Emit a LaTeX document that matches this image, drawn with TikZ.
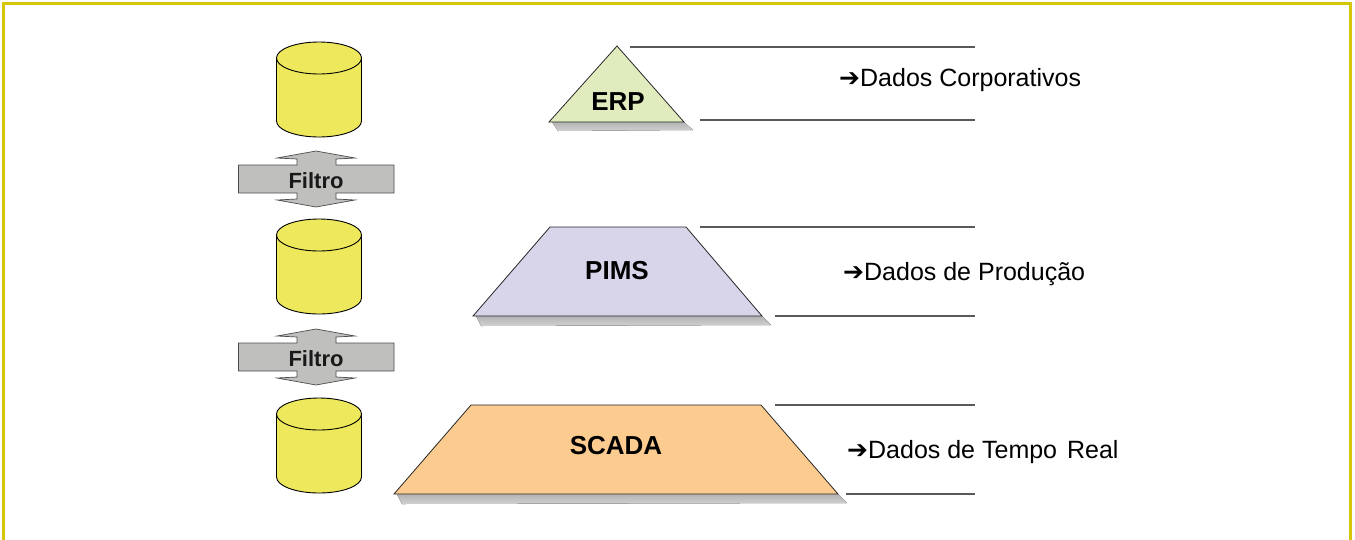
\documentclass[tikz,border=0pt]{standalone}
\usepackage{fontspec}
\setmainfont{Liberation Sans}
\newfontfamily\arrowfont{DejaVu Sans}
\newcommand{\dataarrow}{{\arrowfont\fontsize{25}{25}\selectfont ➔}}
\tikzset{
	framebox/.style={draw=framecol,line width=3pt},
	disc/.style={draw=black,line width=0.9pt,fill=disccol},
	filterarrow/.style={draw=black!70,line width=0.7pt,fill=filtercol},
	level/.style={draw=black!85,line width=0.8pt},
	levelshadow/.style={top color=black!30,bottom color=black!18,draw=none},
	guideline/.style={draw=black!65,line width=1.1pt},
	levelname/.style={font=\bfseries\fontsize{26}{26}\selectfont,text=black},
	dataname/.style={font=\fontsize{25}{27}\selectfont,text=black,anchor=west,inner sep=0pt},
	filtername/.style={font=\bfseries\fontsize{22}{22}\selectfont,text=black!90}
}
\definecolor{framecol}{RGB}{214,198,10}
\definecolor{disccol}{RGB}{237,232,92}
\definecolor{filtercol}{RGB}{191,192,190}
\definecolor{erpcol}{RGB}{224,236,190}
\definecolor{pimscol}{RGB}{216,213,234}
\definecolor{scadacol}{RGB}{252,203,144}
\begin{document}
\begin{tikzpicture}[x=1pt,y=-1pt]
	\useasboundingbox (0,0) rectangle (1355,539);
	\draw[framebox] (3.5,600) -- (3.5,3.5) -- (1350.5,3.5) -- (1350.5,600);
	% cylinders
	\foreach \dy in {0,177,356} {
		\draw[disc] (276.5,58+\dy) -- (276.5,121+\dy) arc[start angle=180,end angle=0,x radius=42.5,y radius=16] -- (361.5,58+\dy) arc[start angle=0,end angle=-180,x radius=42.5,y radius=16] -- cycle;
		\draw[disc] (276.5,58+\dy) arc[start angle=180,end angle=0,x radius=42.5,y radius=16];
	}
	% filters
	\foreach \dy/\nm in {0/filterA,178/filterB} {
		\draw[filterarrow] (316,151+\dy) -- (355,158+\dy) -- (336,159+\dy) -- (336,165+\dy) -- (394,165+\dy) -- (394,193+\dy) -- (336,193+\dy) -- (336,199+\dy) -- (355,200+\dy) -- (316,207+\dy) -- (277,200+\dy) -- (297,199+\dy) -- (297,193+\dy) -- (238.5,193+\dy) -- (238.5,165+\dy) -- (297,165+\dy) -- (297,159+\dy) -- (277,158+\dy) -- cycle;
		\node[filtername] (\nm) at (316,180.5+\dy) {Filtro};
	}
	% levels
	\fill[levelshadow] (552,122) -- (684,122) -- (693,130) -- (558,131) -- cycle;
	\draw[level,fill=erpcol] (617,46) -- (684,122) -- (549,122) -- cycle;
	\node[levelname] (erp) at (618,102) {ERP};
	\fill[levelshadow] (476,316) -- (762,316) -- (771,325) -- (481,326) -- cycle;
	\draw[level,fill=pimscol] (550,227) -- (686,227) -- (762,316) -- (473,316) -- cycle;
	\node[levelname] (pims) at (617,271) {PIMS};
	\fill[levelshadow] (397,494) -- (838,494) -- (847,503) -- (402,504) -- cycle;
	\draw[level,fill=scadacol] (471,405) -- (761,405) -- (838,494) -- (394,494) -- cycle;
	\node[levelname] (scada) at (616,446) {SCADA};
	% guide lines
	\draw[guideline] (630,47) -- (975,47);
	\draw[guideline] (700,120) -- (975,120);
	\draw[guideline] (700,227) -- (975,227);
	\draw[guideline] (775,316) -- (975,316);
	\draw[guideline] (775,405) -- (975,405);
	\draw[guideline] (846,494) -- (975,494);
	% data labels
	\node[dataname] (corp) at (839,80) {\dataarrow Dados Corporativos};
	\node[dataname] (prod) at (843,274) {\dataarrow Dados de Produção};
	\node[dataname] (real) at (847,452) {\dataarrow Dados de Tempo\hspace{3pt} Real};
\end{tikzpicture}
\end{document}
